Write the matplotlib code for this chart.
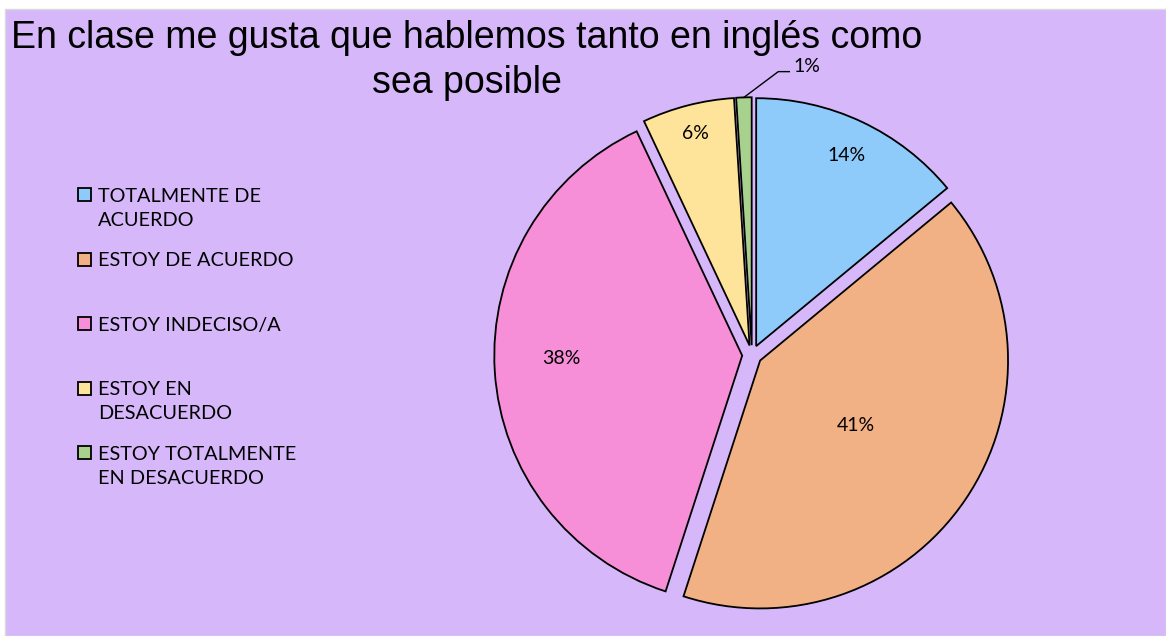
import numpy as np
import matplotlib.pyplot as plt
from matplotlib.patches import Rectangle

# data
categories = ["TOTALMENTE DE\nACUERDO", "ESTOY DE ACUERDO", "ESTOY INDECISO/A",
              "ESTOY EN\nDESACUERDO", "ESTOY TOTALMENTE\nEN DESACUERDO"]
values = [14, 41, 38, 6, 1]
colors = ["#8ECBFA", "#F2B085", "#F68ED8", "#FEE49A", "#A9D18E"]
title_lines = ["En clase me gusta que hablemos tanto en inglés como", "sea posible"]

W, H = 1166, 636
bg = "#D6B8FA"

fig = plt.figure(figsize=(W / 100, H / 100), dpi=100, facecolor="white")
fig.patches.append(Rectangle((5 / W, 0), 1 - 5 / W, 1 - 9 / H, transform=fig.transFigure,
                             facecolor=bg, edgecolor="#D9D9D9", linewidth=1, zorder=-10))

# pie axes: center (752, 355) px
cx, cy, half = 752, 355, 270
ax = fig.add_axes([(cx - half) / W, 1 - (cy + half) / H, 2 * half / W, 2 * half / H])
ax.set_facecolor("none")
ax.axis("off")

explode = 0.04
wedges, texts, autotexts = ax.pie(
    values, colors=colors, startangle=90, counterclock=False,
    explode=[explode] * len(values), radius=1.01,
    autopct="%1.0f%%", pctdistance=0.8,
    wedgeprops=dict(edgecolor="black", linewidth=1.3),
    textprops=dict(fontsize=14, family="Lato"))
ax.set_xlim(-1.1, 1.1)
ax.set_ylim(-1.1, 1.1)
ax.set_aspect("equal")

# Excel "best fit" label distances differ per slice
label_dist = [0.86, 0.47, 0.74, 0.89]
for w, t, d in zip(wedges, autotexts, label_dist):
    a = np.deg2rad((w.theta1 + w.theta2) / 2)
    x0, y0 = w.center
    t.set_position((x0 + d * np.cos(a), y0 + d * np.sin(a)))
autotexts[2].set_va("bottom")

# small slice label sits outside with a leader line
w = wedges[-1]
a = np.deg2rad((w.theta1 + w.theta2) / 2)
px, py = w.center[0] + w.r * np.cos(a), w.center[1] + w.r * np.sin(a)
ex, ey = px + 0.14, py + 0.105
ax.plot([px, ex, ex + 0.045], [py, ey, ey], color="black", lw=1, clip_on=False)
autotexts[-1].set_position((ex + 0.06, ey + 0.02))
autotexts[-1].set_ha("left")
autotexts[-1].set_clip_on(False)

for line, ty in zip(title_lines, [38, 83]):
    fig.text(467 / W, 1 - ty / H, line, ha="center", va="center", fontsize=27,
             family="Liberation Sans")

# legend drawn by hand to match the spread-out entries
lx, ly, pitch = 78, 194.5, 64.5
for i, (lab, w) in enumerate(zip(categories, wedges)):
    y = ly + i * pitch
    fig.patches.append(Rectangle((lx / W, 1 - (y + 6.5) / H), 13 / W, 13 / H,
                                 transform=fig.transFigure, facecolor=w.get_facecolor(),
                                 edgecolor="black", linewidth=1.3))
    fig.text(98 / W, 1 - (y - 7) / H, lab, ha="left", va="top", fontsize=14.3,
             family="Lato", linespacing=1.5)

fig.savefig("out.png", dpi=100, facecolor=fig.get_facecolor())
